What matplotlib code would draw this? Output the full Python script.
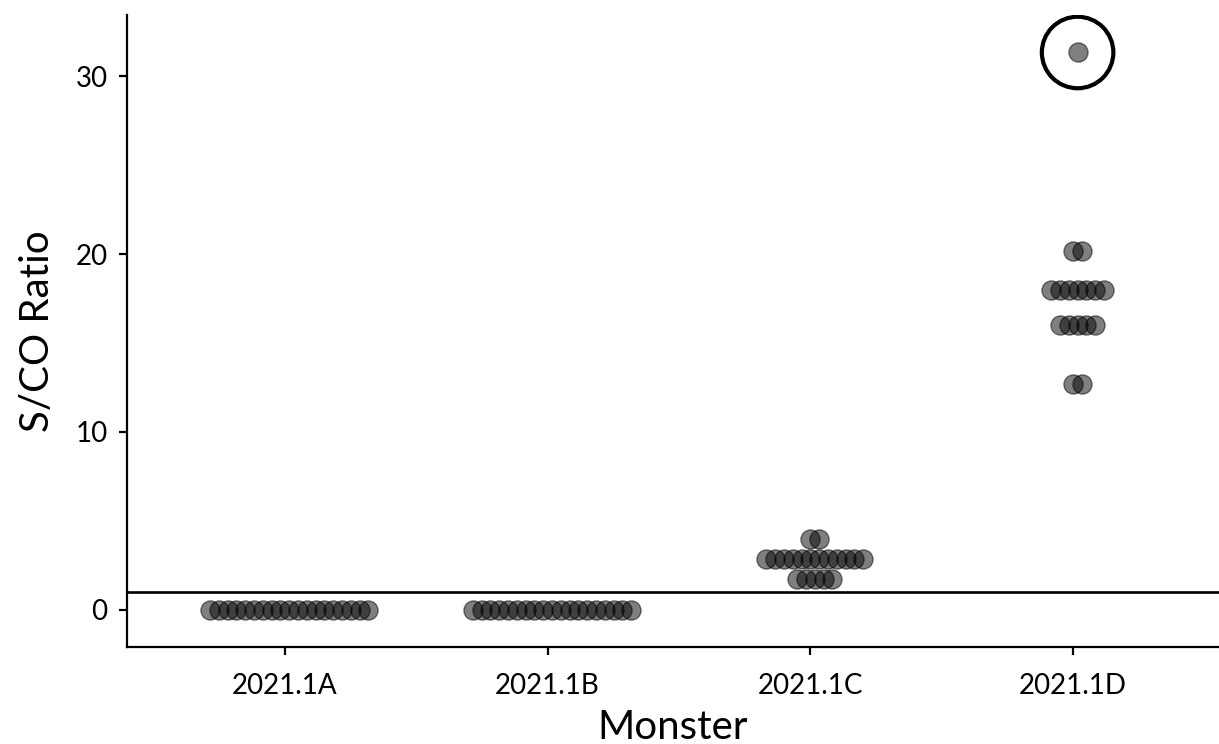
"""
S/CO ratio per monster lot, drawn as centred dot stacks with the cutoff line.
"""

import matplotlib.pyplot as plt
import numpy as np

plt.rcParams["font.family"] = ["Lato", "DejaVu Sans"]

# --- Data --------------------------------------------------------------------
monsters = ["2021.1A", "2021.1B", "2021.1C", "2021.1D"]

# each lot: binned S/CO levels and how many samples fall in each bin
ratio_a = [0.0]
count_a = [19]
ratio_b = [0.0]
count_b = [19]
ratio_c = [1.7, 2.87, 3.95]
count_c = [5, 12, 2]
ratio_d = [12.7, 16.0, 18.0, 20.2, 31.35]
count_d = [2, 5, 7, 2, 1]

CUTOFF = 1.0
Y_TICKS = [0, 10, 20, 30]

# --- Style -------------------------------------------------------------------
STEP = 0.0335     # horizontal spacing between stacked dots (x units)
NUDGE = 0.017     # stacks sit slightly right of the tick
DOT_SIZE = 190
LINE_W = 1.6

groups = [(ratio_a, count_a), (ratio_b, count_b),
          (ratio_c, count_c), (ratio_d, count_d)]

fig = plt.figure(figsize=(12.19, 7.44), dpi=100)
ax = fig.add_axes([127 / 1219, 97 / 744, 1092 / 1219, 632 / 744])

for i, (ratios, counts) in enumerate(groups):
    for value, n in zip(ratios, counts):
        xs = i + 1 + NUDGE + (np.arange(n) - (n - 1) / 2) * STEP
        ax.scatter(xs, np.full(n, value), s=DOT_SIZE, color="black",
                   alpha=0.5, linewidths=1.0, zorder=3)

# cutoff line
ax.axhline(CUTOFF, color="black", linewidth=1.9, zorder=2)

# ring around the outlying 2021.1D sample
ax.scatter([4 + NUDGE], [ratio_d[-1]], s=2650, facecolors="none",
           edgecolors="black", linewidths=3.0, zorder=4)

ax.set_xlim(0.4, 4.555)
ax.set_ylim(-2.11, 33.46)
ax.set_xticks(range(1, len(monsters) + 1))
ax.set_xticklabels(monsters)
ax.set_yticks(Y_TICKS)

for side in ("top", "right"):
    ax.spines[side].set_visible(False)
for side in ("left", "bottom"):
    ax.spines[side].set_linewidth(LINE_W)
ax.tick_params(axis="both", length=6, width=LINE_W, labelsize=20,
               colors="black")
ax.tick_params(axis="x", pad=13)
ax.tick_params(axis="y", pad=8)

ax.set_xlabel("Monster", fontsize=29, labelpad=7)
ax.set_ylabel("S/CO Ratio", fontsize=29, labelpad=14)

fig.savefig("out.png", dpi=100)
plt.close(fig)
